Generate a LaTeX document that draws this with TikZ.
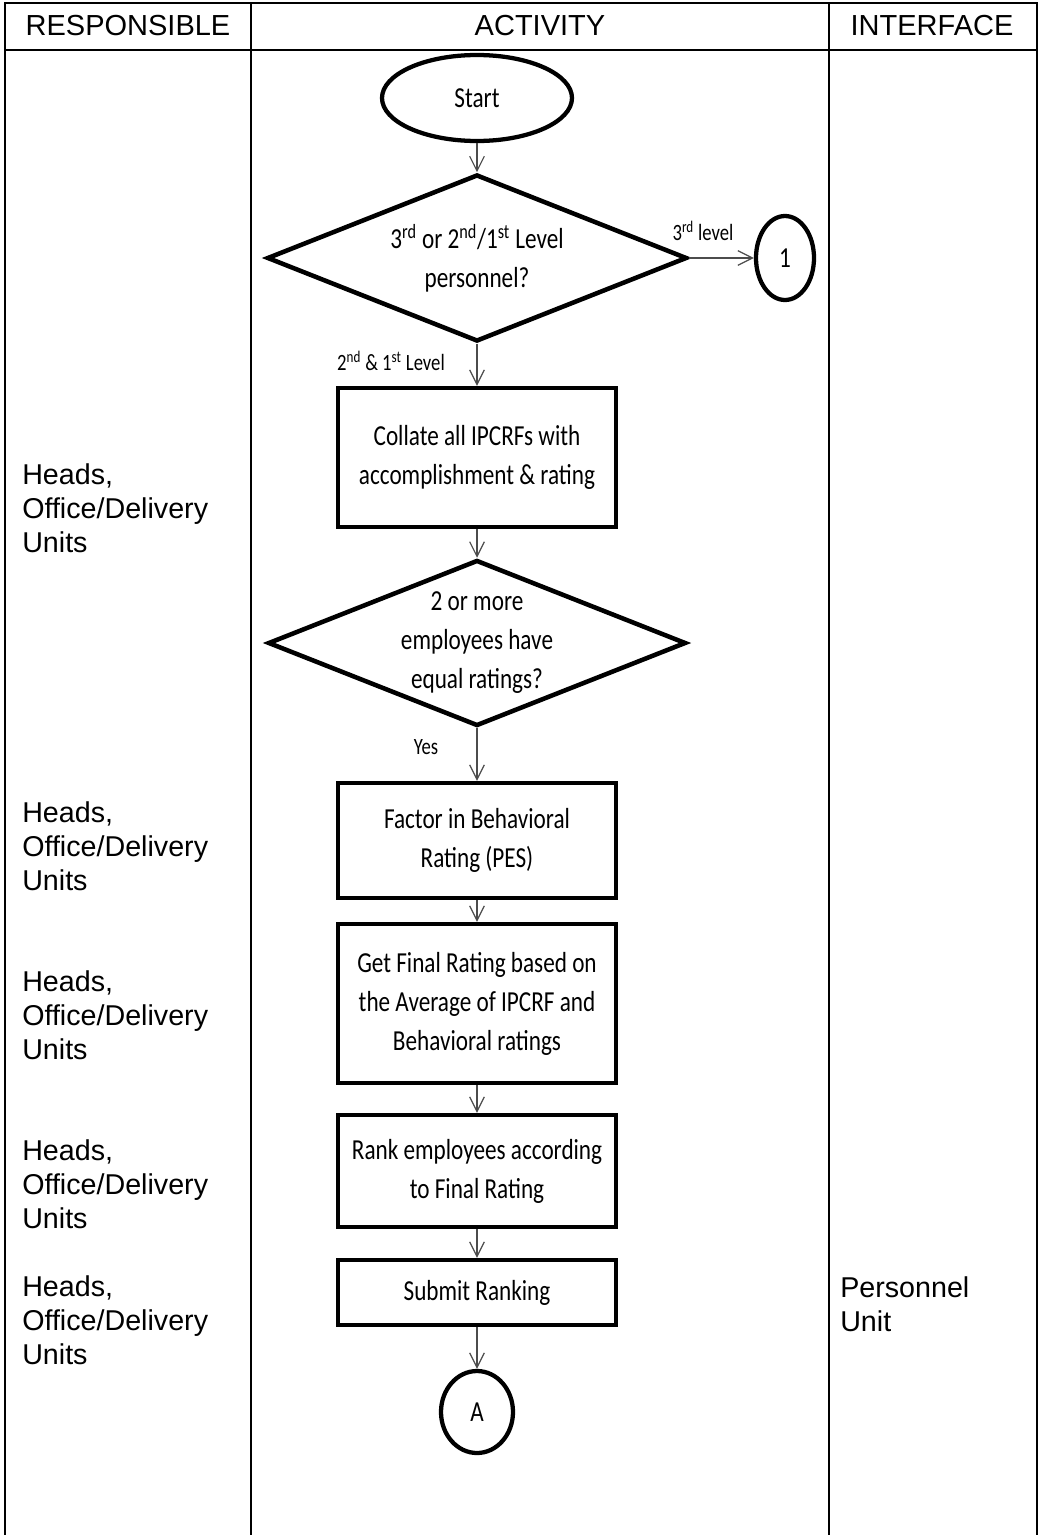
\documentclass[tikz,border=0pt]{standalone}
\usepackage{fontspec}
\setmainfont{Liberation Sans}
\newfontfamily\calfont{Carlito}[FakeStretch=0.8]
\usetikzlibrary{shapes.geometric,arrows.meta}
\tikzset{
  tbl/.style={line width=1.6pt, black},
  hdr/.style={font=\fontsize{21.75pt}{24.75pt}\selectfont},
  lbl/.style={font=\fontsize{21.5pt}{25.5pt}\selectfont, align=left, anchor=west, inner sep=0pt},
  flow/.style={font=\calfont\fontsize{21.75pt}{29.25pt}\selectfont, align=center, inner sep=0pt, line width=3.2pt, draw=black},
  boxnode/.style 2 args={flow, rectangle, minimum width=#1*0.75pt, minimum height=#2*0.75pt},
  ellnode/.style 2 args={flow, ellipse, minimum width=#1*0.75pt, minimum height=#2*0.75pt},
  dianode/.style 2 args={flow, diamond, aspect=2.5, minimum width=#1*0.75pt, minimum height=#2*0.75pt, line width=3.4pt},
  small/.style={font=\calfont\fontsize{17.5pt}{20pt}\selectfont, inner sep=0pt},
  arr/.style={draw=black!70, line width=0.9pt, -{Straight Barb[length=11pt, width=11pt, line width=0.9pt]}}
}
\begin{document}
\begin{tikzpicture}[x=0.75pt, y=-0.75pt]
\useasboundingbox (0,0) rectangle (1040,1535);
% table
\draw[tbl] (5,1535) -- (5,3) -- (1037,3) -- (1037,1535);
\draw[tbl] (5,50) -- (1037,50);
\draw[tbl] (251,3) -- (251,1535);
\draw[tbl] (829,3) -- (829,1535);
\node[hdr] (h1) at (128,26) {RESPONSIBLE};
\node[hdr] (h2) at (540,26) {ACTIVITY};
\node[hdr] (h3) at (932,26) {INTERFACE};
% left labels
\node[lbl] (r1) at (22,508) {Heads,\\Office/Delivery\\Units};
\node[lbl] (r2) at (22,846) {Heads,\\Office/Delivery\\Units};
\node[lbl] (r3) at (22,1015) {Heads,\\Office/Delivery\\Units};
\node[lbl] (r4) at (22,1184) {Heads,\\Office/Delivery\\Units};
\node[lbl] (r5) at (22,1320) {Heads,\\Office/Delivery\\Units};
\node[lbl] (i5) at (840,1304) {Personnel\\Unit};
% flow nodes
\node[ellnode={190}{86}] (start) at (477,98) {Start};
\node[dianode={420}{167}] (d1) at (477,258) {3\textsuperscript{rd} or 2\textsuperscript{nd}/1\textsuperscript{st} Level\\personnel?};
\node[ellnode={58}{84}] (c1) at (785,258) {1};
\node[boxnode={278}{139}] (b1) at (477,457.5) {Collate all IPCRFs with\\accomplishment \& rating};
\node[dianode={418}{166}] (d2) at (477,643) {2 or more\\employees have\\equal ratings?};
\node[boxnode={278}{115}] (b2) at (477,840.5) {Factor in Behavioral\\Rating (PES)};
\node[boxnode={278}{159}] (b3) at (477,1003.5) {Get Final Rating based on\\the Average of IPCRF and\\Behavioral ratings};
\node[boxnode={278}{112}] (b4) at (477,1171) {Rank employees according\\to Final Rating};
\node[boxnode={278}{65}] (b5) at (477,1292.5) {Submit Ranking};
\node[ellnode={72}{82}] (cA) at (477,1412) {A};
% connectors
\draw[arr] (start.south) -- (d1.north);
\draw[arr] (d1.east) -- (c1.west);
\draw[arr] (d1.south) -- (b1.north);
\draw[arr] (b1.south) -- (d2.north);
\draw[arr] (d2.south) -- (b2.north);
\draw[arr] (b2.south) -- (b3.north);
\draw[arr] (b3.south) -- (b4.north);
\draw[arr] (b4.south) -- (b5.north);
\draw[arr] (b5.south) -- (cA.north);
% labels
\node[small] (l1) at (703,231) {3\textsuperscript{rd} level};
\node[small] (l2) at (391,361) {2\textsuperscript{nd} \& 1\textsuperscript{st} Level};
\node[small] (l3) at (426,747) {Yes};
\end{tikzpicture}
\end{document}
